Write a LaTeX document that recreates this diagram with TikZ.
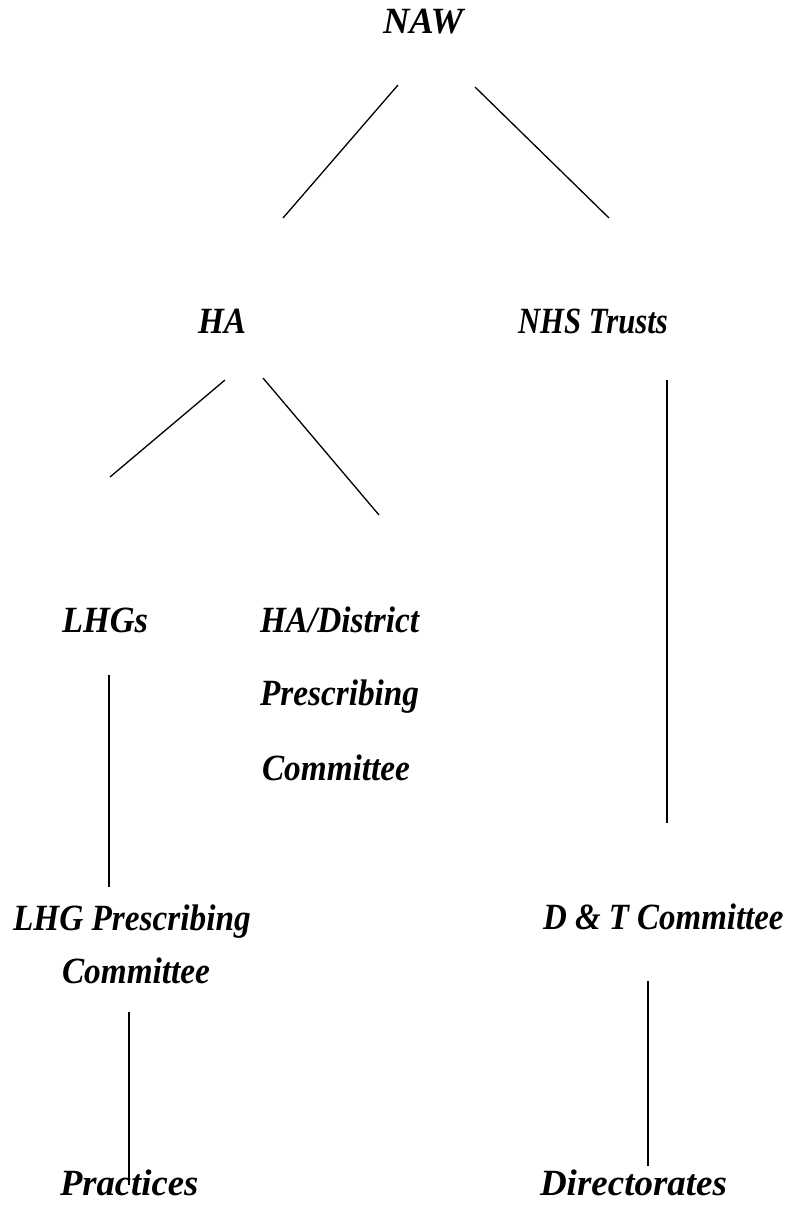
\documentclass[tikz,border=0pt]{standalone}
\usepackage{fontspec}
\usepackage{graphicx}
\setmainfont{Liberation Serif}
\newcommand{\sq}[2]{\scalebox{#1}[1]{#2}}
\begin{document}
\begin{tikzpicture}[x=1pt,y=-1pt,
  lbl/.style={anchor=base west,inner sep=0pt,outer sep=0pt,font=\fontsize{37}{40}\selectfont\bfseries\itshape},
  conn/.style={line width=1.3pt,black}]
\useasboundingbox (0,0) rectangle (791,1205);
\node[lbl] (naw) at (383,33) {\sq{0.99}{NAW}};
\node[lbl] (ha) at (198,333) {\sq{0.9}{HA}};
\node[lbl] (nhs) at (518,333) {\sq{0.83}{NHS Trusts}};
\node[lbl] (lhgs) at (62,632) {\sq{0.93}{LHGs}};
\node[lbl] (had) at (260,632) {\sq{0.9}{HA/District}};
\node[lbl] (hap) at (260,705) {\sq{0.9}{Prescribing}};
\node[lbl] (hac) at (262,780) {\sq{0.9}{Committee}};
\node[lbl] (lhgp) at (13,930) {\sq{0.9}{LHG Prescribing}};
\node[lbl] (lhgc) at (62,983) {\sq{0.9}{Committee}};
\node[lbl] (dt) at (543,929) {\sq{0.89}{D \& T Committee}};
\node[lbl] (pr) at (60,1195) {\sq{0.99}{Practices}};
\node[lbl] (dir) at (540,1195) {\sq{1.0}{Directorates}};
\coordinate (a1) at (398,85);  \coordinate (a2) at (283,218);
\coordinate (b1) at (475,87);  \coordinate (b2) at (609,218);
\coordinate (c1) at (225,380); \coordinate (c2) at (110,477);
\coordinate (d1) at (263,378); \coordinate (d2) at (379,515);
\coordinate (e1) at (667,380); \coordinate (e2) at (667,823);
\coordinate (f1) at (109,675); \coordinate (f2) at (109,887);
\coordinate (g1) at (129,1012); \coordinate (g2) at (129,1185);
\coordinate (h1) at (648,981); \coordinate (h2) at (648,1166);
\draw[conn] (a1) -- (a2);
\draw[conn] (b1) -- (b2);
\draw[conn] (c1) -- (c2);
\draw[conn] (d1) -- (d2);
\draw[conn] (e1) -- (e2);
\draw[conn] (f1) -- (f2);
\draw[conn] (g1) -- (g2);
\draw[conn] (h1) -- (h2);
\end{tikzpicture}
\end{document}
